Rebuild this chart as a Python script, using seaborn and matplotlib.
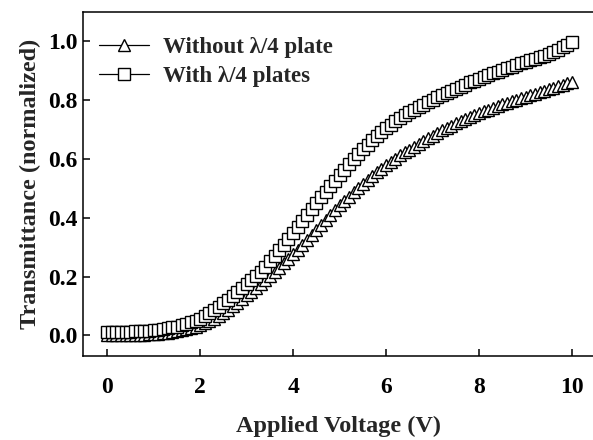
import numpy as np
import pandas as pd
import matplotlib
matplotlib.use("Agg")
import matplotlib.pyplot as plt
import seaborn as sns

voltage = [round(0.1 * i, 1) for i in range(101)]

with_plates = [
    0.012, 0.012, 0.012, 0.012, 0.013, 0.013, 0.014, 0.014, 0.015, 0.016, 0.018,
    0.019, 0.021, 0.024, 0.027, 0.030, 0.034, 0.039, 0.044, 0.050, 0.057,
    0.066, 0.075, 0.085, 0.097, 0.109, 0.121, 0.134, 0.147, 0.160, 0.174,
    0.187, 0.201, 0.217, 0.234, 0.252, 0.270, 0.289, 0.309, 0.328, 0.348,
    0.368, 0.389, 0.409, 0.429, 0.449, 0.469, 0.488, 0.507, 0.526, 0.545,
    0.564, 0.582, 0.600, 0.617, 0.633, 0.648, 0.663, 0.677, 0.691, 0.704,
    0.716, 0.728, 0.739, 0.749, 0.759, 0.768, 0.777, 0.785, 0.793, 0.801,
    0.809, 0.817, 0.824, 0.832, 0.839, 0.846, 0.853, 0.860, 0.866, 0.873,
    0.879, 0.885, 0.891, 0.897, 0.903, 0.909, 0.914, 0.920, 0.925, 0.931,
    0.936, 0.941, 0.946, 0.951, 0.957, 0.963, 0.971, 0.980, 0.989, 0.998,
]

without_plate = [
    0.000, 0.000, 0.000, 0.000, 0.001, 0.001, 0.001, 0.002, 0.002, 0.003, 0.004,
    0.005, 0.007, 0.009, 0.011, 0.014, 0.017, 0.021, 0.025, 0.030, 0.035,
    0.042, 0.049, 0.057, 0.066, 0.076, 0.087, 0.099, 0.111, 0.123, 0.136,
    0.149, 0.162, 0.175, 0.188, 0.201, 0.215, 0.230, 0.245, 0.260, 0.276,
    0.292, 0.309, 0.326, 0.343, 0.360, 0.377, 0.394, 0.410, 0.426, 0.442,
    0.457, 0.472, 0.487, 0.501, 0.515, 0.528, 0.541, 0.554, 0.566, 0.578,
    0.590, 0.601, 0.612, 0.622, 0.632, 0.642, 0.652, 0.661, 0.670, 0.679,
    0.688, 0.697, 0.705, 0.713, 0.721, 0.728, 0.735, 0.742, 0.749, 0.756,
    0.762, 0.768, 0.774, 0.780, 0.786, 0.791, 0.797, 0.802, 0.807, 0.812,
    0.817, 0.822, 0.827, 0.832, 0.837, 0.842, 0.847, 0.852, 0.857, 0.862,
]

series_names = ["Without \u03bb/4 plate", "With \u03bb/4 plates"]
x_ticks = [0, 2, 4, 6, 8, 10]
y_ticks = [0.0, 0.2, 0.4, 0.6, 0.8, 1.0]

sns.set_style("ticks")
plt.rcParams["font.family"] = ["Liberation Serif", "DejaVu Serif"]
plt.rcParams["font.weight"] = "bold"

fig = plt.figure(figsize=(5.93, 4.40), dpi=100)
ax = fig.add_axes([0.14, 0.191, 0.86, 0.782])

df_without = pd.DataFrame({"V": voltage, "T": without_plate})
df_with = pd.DataFrame({"V": voltage, "T": with_plates})

common = dict(color="black", linewidth=0.9, markersize=8.8,
              markerfacecolor="white", markeredgecolor="black",
              markeredgewidth=1.0, ax=ax, sort=False)
sns.lineplot(data=df_without, x="V", y="T", marker="^", label=series_names[0], **common)
sns.lineplot(data=df_with, x="V", y="T", marker="s", label=series_names[1], **common)

ax.set_xlim(-0.52, 10.45)
ax.set_ylim(-0.07, 1.1)
ax.set_xticks(x_ticks)
ax.set_xticklabels([str(t) for t in x_ticks])
ax.set_yticks(y_ticks)
ax.set_yticklabels([f"{t:.1f}" for t in y_ticks])

for s in ["left", "bottom", "top"]:
    ax.spines[s].set_linewidth(1.1)
    ax.spines[s].set_color("black")
ax.spines["right"].set_visible(False)

ax.tick_params(direction="in", length=5, width=1.1, labelsize=17, colors="black")
ax.tick_params(axis="x", pad=15)
ax.tick_params(axis="y", pad=4)
for lab in ax.get_xticklabels() + ax.get_yticklabels():
    lab.set_fontweight("bold")

ax.set_xlabel("Applied Voltage (V)", fontsize=17.5, fontweight="bold", labelpad=13)
ax.set_ylabel("Transmittance (normalized)", fontsize=17.5, fontweight="bold", labelpad=5)

leg = ax.legend(loc="upper left", frameon=False, fontsize=16.5,
                handlelength=2.2, handletextpad=0.6, labelspacing=0.35,
                borderaxespad=0.3, bbox_to_anchor=(0.0, 0.975))
for t in leg.get_texts():
    t.set_fontweight("bold")

fig.savefig("out.png", dpi=100)
